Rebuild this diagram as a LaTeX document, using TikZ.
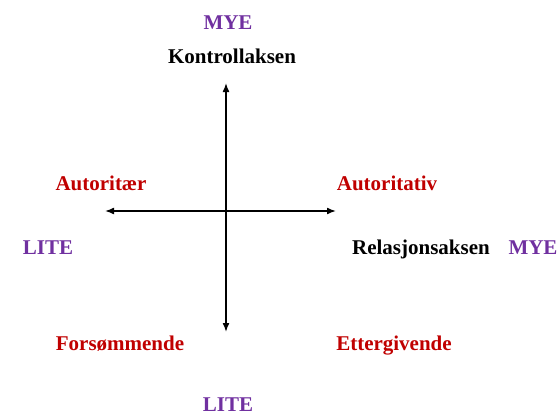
\documentclass[tikz,border=0pt]{standalone}
\usepackage{fontspec}
\setmainfont{Liberation Serif}
\usetikzlibrary{arrows.meta}
\definecolor{mye}{HTML}{7030A0}
\definecolor{stil}{HTML}{C00000}

\begin{document}
\begin{tikzpicture}[x=1pt,y=-1pt,
  lbl/.style={anchor=base,inner sep=0pt,font=\fontsize{21}{24}\selectfont\bfseries},
  akse/.style={line width=1.5pt,{Latex[length=9pt,width=7pt]}-{Latex[length=9pt,width=7pt]}}]
\useasboundingbox (0,0) rectangle (560,415);
% \draw[step=20,gray,very thin] (0,0) grid (560,415);
%% axes
\coordinate (top) at (226,83);
\coordinate (bottom) at (226,332);
\coordinate (left) at (105,211);
\coordinate (right) at (336,211);
\draw[akse] (top)--(bottom);
\draw[akse] (left)--(right);

%% axis names and ends
\node[lbl,text=mye] (mye1) at (228,29) {MYE};
\node[lbl] (kontroll) at (232,63) {Kontrollaksen};
\node[lbl,text=mye] (lite1) at (228,411) {LITE};
\node[lbl,text=mye] (lite2) at (48,254) {LITE};
\node[lbl] (relasjon) at (421,254) {Relasjonsaksen};
\node[lbl,text=mye] (mye2) at (533,254) {MYE};

%% styles
\node[lbl,text=stil] (autoritaer) at (101,190) {Autoritær};
\node[lbl,text=stil] (autoritativ) at (387,190) {Autoritativ};
\node[lbl,text=stil] (forsommende) at (120,350) {Forsømmende};
\node[lbl,text=stil] (ettergivende) at (394,350) {Ettergivende};
\end{tikzpicture}
\end{document}
